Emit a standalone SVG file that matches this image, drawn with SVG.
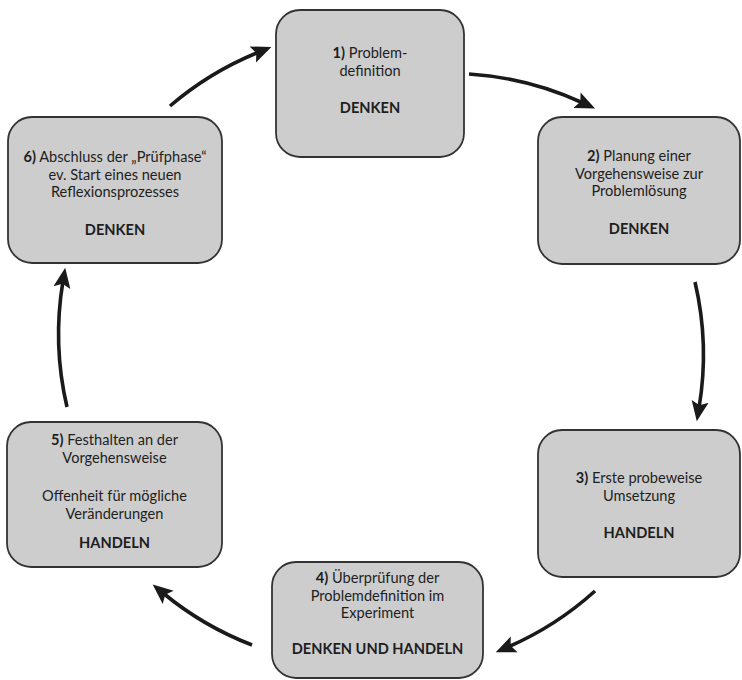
<svg xmlns="http://www.w3.org/2000/svg" width="742" height="680" viewBox="0 0 742 680">
<style>
.box{fill:#cdcdcd;stroke:#333333;stroke-width:1.8}
.t{font-family:Lato,"Open Sans","Liberation Sans",sans-serif;font-size:14.6px;fill:#1e1e1e;text-anchor:middle}
.b{font-weight:bold}
.arr{fill:none;stroke:#1a1a1a;stroke-width:3.6}
</style>
<defs>
<marker id="ah" markerUnits="userSpaceOnUse" markerWidth="21" markerHeight="21" refX="7" refY="9" orient="auto" viewBox="0 0 22 18">
<path d="M0,0 L21,9 L0,18 L4,9 Z" fill="#1a1a1a"/>
</marker>
</defs>
<rect width="742" height="680" fill="#ffffff"/>
<g id="connectors">
<path class="arr" d="M469,74 A320,320 0 0 1 583,103" marker-end="url(#ah)"/>
<path class="arr" d="M695,282 A320,320 0 0 1 699,408" marker-end="url(#ah)"/>
<path class="arr" d="M595,591 A320,320 0 0 1 508,647" marker-end="url(#ah)"/>
<path class="arr" d="M252,645 A320,320 0 0 1 163,593" marker-end="url(#ah)"/>
<path class="arr" d="M67,407 A320,320 0 0 1 63,281" marker-end="url(#ah)"/>
<path class="arr" d="M170,106 A320,320 0 0 1 259,52" marker-end="url(#ah)"/>
</g>
<g id="node1">
<rect class="box" x="276" y="10" width="188" height="147" rx="24"/>
<text class="t" x="370" y="58"><tspan class="b">1)</tspan> Problem-</text>
<text class="t" x="370" y="75.5">definition</text>
<text class="t b" x="370" y="113">DENKEN</text>
</g>
<g id="node2">
<rect class="box" x="538" y="117" width="202" height="147" rx="24"/>
<text class="t" x="639" y="161"><tspan class="b">2)</tspan> Planung einer</text>
<text class="t" x="639" y="178.5">Vorgehensweise zur</text>
<text class="t" x="639" y="196">Problemlösung</text>
<text class="t b" x="639" y="234">DENKEN</text>
</g>
<g id="node3">
<rect class="box" x="538" y="430" width="202" height="147" rx="24"/>
<text class="t" x="639" y="483"><tspan class="b">3)</tspan> Erste probeweise</text>
<text class="t" x="639" y="500.5">Umsetzung</text>
<text class="t b" x="639" y="538">HANDELN</text>
</g>
<g id="node4">
<rect class="box" x="272" y="562" width="211" height="116" rx="24"/>
<text class="t" x="377.5" y="583"><tspan class="b">4)</tspan> Überprüfung der</text>
<text class="t" x="377.5" y="600.5">Problemdefinition im</text>
<text class="t" x="377.5" y="618">Experiment</text>
<text class="t b" x="377.5" y="654">DENKEN UND HANDELN</text>
</g>
<g id="node5">
<rect class="box" x="7" y="422" width="215" height="145" rx="24"/>
<text class="t" x="114.5" y="445"><tspan class="b">5)</tspan> Festhalten an der</text>
<text class="t" x="114.5" y="463">Vorgehensweise</text>
<text class="t" x="114.5" y="501">Offenheit für mögliche</text>
<text class="t" x="114.5" y="519">Veränderungen</text>
<text class="t b" x="114.5" y="548">HANDELN</text>
</g>
<g id="node6">
<rect class="box" x="8" y="117" width="214" height="146" rx="24"/>
<text class="t" x="115" y="162"><tspan class="b">6)</tspan> Abschluss der „Prüfphase“</text>
<text class="t" x="115" y="179.5">ev. Start eines neuen</text>
<text class="t" x="115" y="197">Reflexionsprozesses</text>
<text class="t b" x="115" y="235">DENKEN</text>
</g>
</svg>
